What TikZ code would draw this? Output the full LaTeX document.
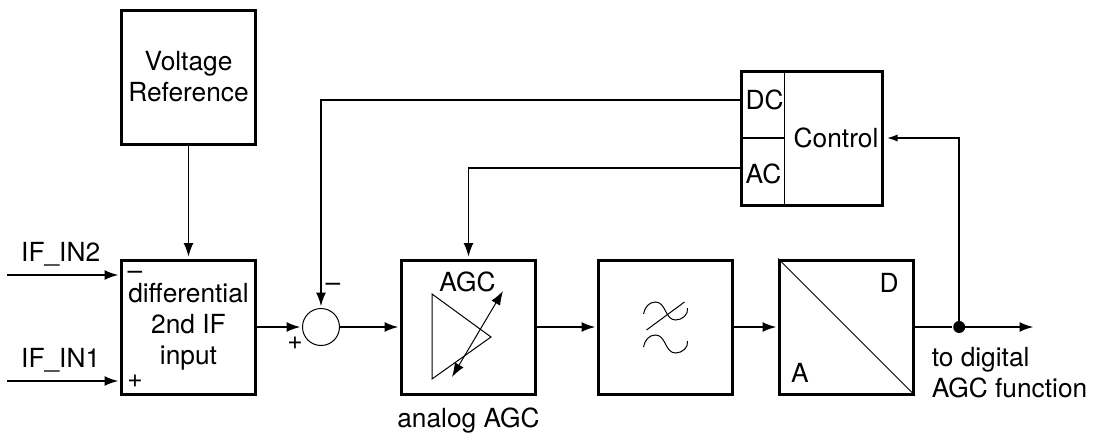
\documentclass[tikz,border=0pt]{standalone}
\usepackage{fontspec}
\setmainfont{TeX Gyre Heros}
\usetikzlibrary{graphs, positioning, arrows.meta}

\tikzset{
    blockbox/.style={draw, line width=3pt, minimum size=134pt, inner sep=0pt, align=center},
    txt/.style={inner sep=0pt, align=left},
    wire/.style={line width=1.9pt, shorten >=1.5pt},
    smallhead/.style={>={Latex[length=11pt, width=7pt]}, shorten >=3pt},
    fine/.style={line width=1pt},
    divider/.style={line width=1.7pt},
}

\begin{document}
\begin{tikzpicture}[x=1pt, y=1pt, node distance=44pt, >={Latex[length=14pt, width=10pt]},
    font=\fontsize{26.3}{31}\selectfont]
    \useasboundingbox (0,0) rectangle (1093,-434);

    \node[blockbox]                                   (input)   at (188.5,-327) {differential\\2nd IF\\input};
    \node[blockbox, above=113pt of input]             (voltage) {Voltage\\Reference};
    \node[draw, circle, fine, minimum size=37pt, right=45pt of input] (mixer) {};
    \node[blockbox, right=60pt of mixer]              (agc)     {};
    \node[blockbox, right=60pt of agc]                (filter)  {};
    \node[blockbox, right=of filter]                  (ad)      {};
    \node[blockbox, minimum width=141pt, above=52pt of ad, xshift=-35pt] (control) {};

    \coordinate[above=52pt of input.west]  (port2);
    \coordinate[below=54pt of input.west]  (port1);
    \coordinate[left=113pt of port2]       (in2);
    \coordinate[left=113pt of port1]       (in1);
    \coordinate[above=38pt of control.west] (dcport);
    \coordinate[below=30pt of control.west] (acport);
    \coordinate[right=45pt of control.west] (split);
    \node[circle, fill, inner sep=0pt, minimum size=12pt, right=38pt of ad.east] (tap) {};
    \coordinate[right=120pt of ad.east]     (out);

    \node[txt, above right=9pt and 14pt of in2]  (in2 text) {IF\_IN2};
    \node[txt, above right=9pt and 14pt of in1]  (in1 text) {IF\_IN1};
    \node[txt] (in2 sign) at ([xshift=-53.5pt, yshift=52pt]input.center)  {–};
    \node[txt] (in1 sign) at ([xshift=-53.5pt, yshift=-54pt]input.center) {+};
    \node[txt] (mix minus) at ([xshift=12pt, yshift=40pt]mixer.center)    {–};
    \node[txt] (mix plus)  at ([xshift=-26pt, yshift=-16pt]mixer.center)  {+};
    \node[txt] (agc text)  at ([xshift=-1pt, yshift=45pt]agc.center)      {AGC};
    \node[txt, below=12pt of agc]                (agc name) {analog AGC};
    \node[txt, right=6pt of dcport]              (dc)       {DC};
    \node[txt, right=6pt of acport, yshift=-6pt] (ac)       {AC};
    \node[txt, right=9pt of split]               (control text) {Control};
    \node[txt] (d) at ([xshift=42.5pt, yshift=44.5pt]ad.center)  {D};
    \node[txt] (a) at ([xshift=-46.5pt, yshift=-45.5pt]ad.center) {A};
    \node[txt, below right=16pt and -32pt of tap] (out text) {to digital\\AGC function};

    \draw[divider] (split |- control.north) -- (split |- control.south);
    \draw[divider] (control.west) -- (split);
    \draw[fine] (ad.north west) -- (ad.south east);

    \begin{scope}[shift={(agc.center)}, fine]
        \draw[line join=miter] (-36.5,33) -- (22.5,-10) -- (-36.5,-52) -- cycle;
        \draw[<->] (-16.5,-50) -- (34.5,36);
    \end{scope}
    \begin{scope}[shift={(filter.center)}, fine]
        \foreach \yy in {13,-20}
            \draw (-22,\yy) to[out=80, in=180] ++(12,12) to[out=0, in=180] ++(20,-18) to[out=0, in=-80] ++(12,12);
        \draw (-19,-3) -- (19,25);
    \end{scope}

    \graph[edges=wire]{
    (voltage) -> (input) -> (mixer) -> (agc) -> (filter) -> (ad) -- (tap) -> (out);
    (in2) -> (port2);
    (in1) -> (port1);
    (dcport) ->[to path={-| (\tikztotarget)}] (mixer);
    (acport) ->[to path={-| (\tikztotarget)}] (agc);
    (tap) ->[smallhead, to path={|- (\tikztotarget)}] (control);
    };
\end{tikzpicture}
\end{document}
